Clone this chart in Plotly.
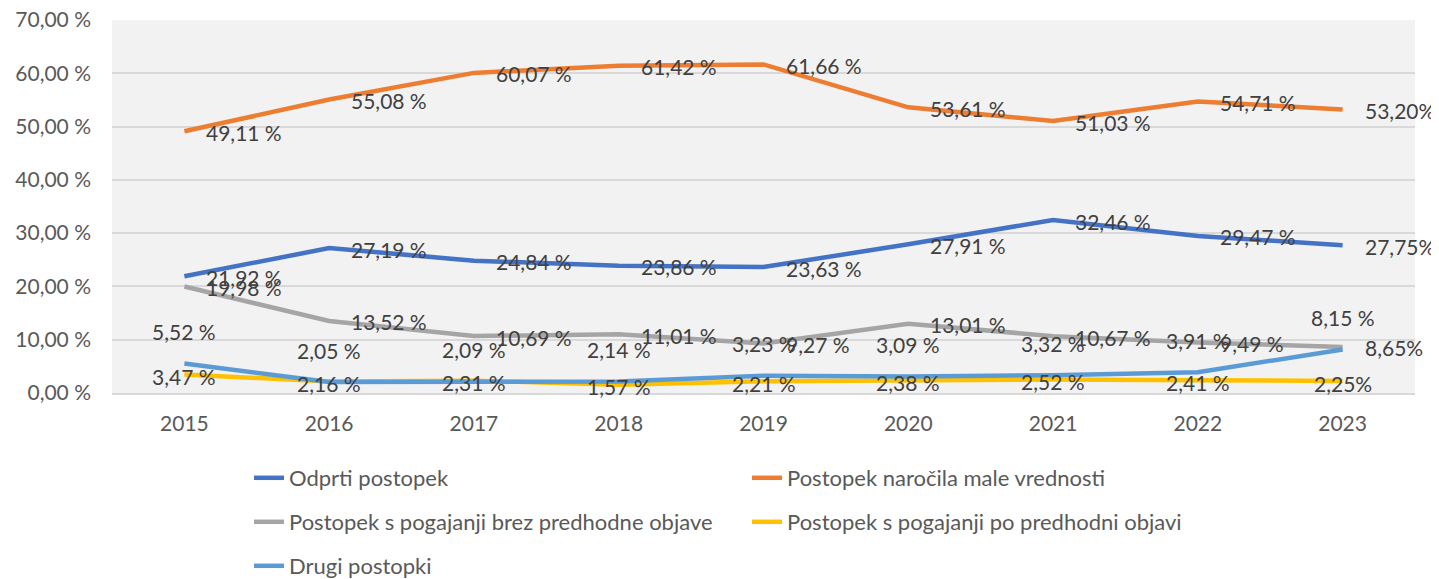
import plotly.graph_objects as go

years = ["2015", "2016", "2017", "2018", "2019", "2020", "2021", "2022", "2023"]
odprti = [21.92, 27.19, 24.84, 23.86, 23.63, 27.91, 32.46, 29.47, 27.75]
male_vrednosti = [49.11, 55.08, 60.07, 61.42, 61.66, 53.61, 51.03, 54.71, 53.20]
brez_objave = [19.98, 13.52, 10.69, 11.01, 9.27, 13.01, 10.67, 9.49, 8.65]
po_objavi = [3.47, 2.16, 2.31, 1.57, 2.21, 2.38, 2.52, 2.41, 2.25]
drugi = [5.52, 2.05, 2.09, 2.14, 3.23, 3.09, 3.32, 3.91, 8.15]

series_names = [
    "Odprti postopek",
    "Postopek naročila male vrednosti",
    "Postopek s pogajanji brez predhodne objave",
    "Postopek s pogajanji po predhodni objavi",
    "Drugi postopki",
]
y_ticks = [0, 10, 20, 30, 40, 50, 60, 70]

FONT = "Lato"
LABEL_COLOR = "#404040"
TICK_COLOR = "#595959"
FS = 21
LFS = 22


def fmt(v, space=True):
    s = f"{v:.2f}".replace(".", ",")
    return s + (" %" if space else "%")


series = [
    (odprti, "#4472C4", "right", True),
    (male_vrednosti, "#ED7D31", "right", True),
    (brez_objave, "#A5A5A5", "right", True),
    (po_objavi, "#FFC000", "center", True),
    (drugi, "#5B9BD5", "above", False),
]

legend_ids = ["legend", "legend", "legend2", "legend2", "legend3"]

fig = go.Figure()
annotations = []
for (vals, color, pos, last_nospace), name, lg in zip(series, series_names, legend_ids):
    fig.add_trace(go.Scatter(
        x=years, y=vals, mode="lines", name=name,
        line=dict(color=color, width=4.5),
        legend=lg, hoverinfo="skip",
    ))
    for i, v in enumerate(vals):
        nospace = last_nospace and i == len(vals) - 1
        txt = fmt(v, space=not nospace)
        a = dict(x=i, y=v, xref="x", yref="y", text=txt, showarrow=False,
                 font=dict(family=FONT, size=FS, color=LABEL_COLOR))
        if pos == "right":
            a.update(xanchor="left", yanchor="middle", xshift=20, yshift=-1)
        elif pos == "center":
            a.update(xanchor="center", yanchor="middle", xshift=0, yshift=-2)
        else:
            a.update(xanchor="center", yanchor="middle", xshift=0, yshift=32)
        annotations.append(a)

# page has an 8px body margin; target positions are in page pixels
OFF = 8
plot_left, plot_right = 112, 1415
plot_top, plot_bottom = 20, 393
W, H = 1439 - OFF, 579 - OFF
pw = plot_right - plot_left
ph = plot_bottom - plot_top


def lx(px):
    return (px - plot_left) / pw


def ly(py):
    return (plot_bottom - py) / ph


legend_common = dict(
    orientation="h", xanchor="left", yanchor="middle",
    entrywidth=453, entrywidthmode="pixels",
    bgcolor="rgba(0,0,0,0)", borderwidth=0,
    font=dict(family=FONT, size=LFS, color=TICK_COLOR),
    itemclick=False, itemdoubleclick=False,
)

fig.update_layout(
    width=W, height=H,
    margin=dict(l=plot_left - OFF, r=W + OFF - plot_right, t=plot_top - OFF,
                b=H + OFF - plot_bottom, autoexpand=False),
    paper_bgcolor="white",
    plot_bgcolor="#F2F2F2",
    font=dict(family=FONT, size=FS, color=TICK_COLOR),
    annotations=annotations,
    showlegend=True,
    legend=dict(legend_common, x=lx(249), y=ly(478)),
    legend2=dict(legend_common, x=lx(249), y=ly(522)),
    legend3=dict(legend_common, x=lx(249), y=ly(566)),
    xaxis=dict(
        type="category", range=[-0.5, len(years) - 0.5],
        showgrid=False, showline=True, linecolor="#D9D9D9", linewidth=1.5,
        ticks="", ticklabelstandoff=11,
        tickfont=dict(family=FONT, size=FS, color=TICK_COLOR),
        fixedrange=True,
    ),
    yaxis=dict(
        range=[0, 70], tickvals=y_ticks,
        ticktext=[fmt(v) for v in y_ticks],
        showgrid=True, gridcolor="#D9D9D9", gridwidth=1.5,
        zeroline=False, showline=False, ticks="", ticklabelstandoff=20,
        ticklabeloverflow="allow",
        tickfont=dict(family=FONT, size=21, color=TICK_COLOR),
        fixedrange=True,
    ),
)

fig.write_html("out.html")
